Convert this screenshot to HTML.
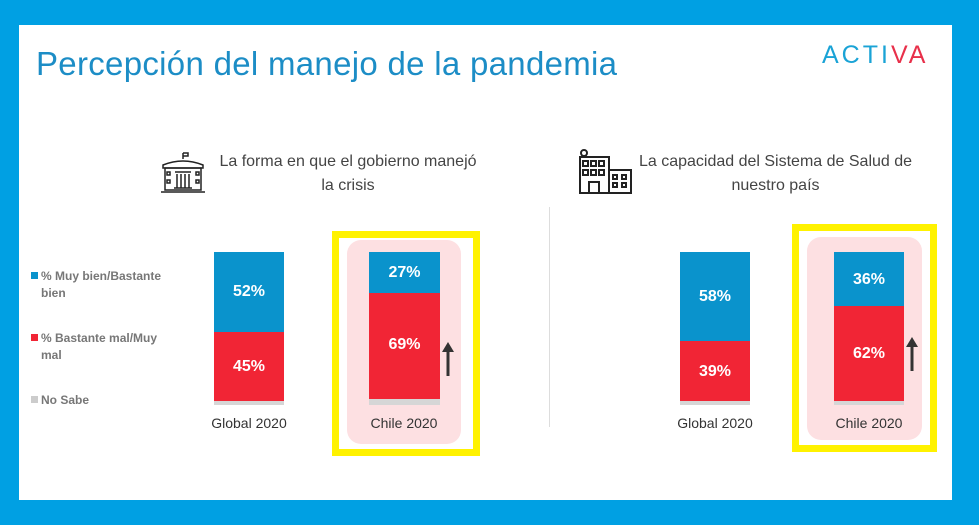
<!DOCTYPE html>
<html><head><meta charset="utf-8"><style>
body{margin:0;width:979px;height:525px;background:#00a0e3;position:relative;overflow:hidden;font-family:"Liberation Sans",sans-serif}
.abs{position:absolute}
#panel{left:19px;top:25px;width:933px;height:475px;background:#fff}
.t{color:#444;font-size:16px;text-align:center;line-height:24px}
.bar span{position:absolute;left:0;width:100%;color:#fff;font-weight:bold;font-size:16px;text-align:center}
.lab{font-size:14px;color:#333;text-align:center;width:100px}
.leg{font-size:12px;color:#777;font-weight:bold;line-height:17px}
</style></head><body>
<div id="panel" class="abs"></div>
<div class="abs" style="left:36px;top:45px;font-size:33px;color:#1c8dc6;letter-spacing:0.3px">Percepción del manejo de la pandemia</div>
<div class="abs" style="left:822px;top:41px;font-size:25px;letter-spacing:3px;color:#1aa3d6">ACTI<span style="color:#e8304a">VA</span></div>

<svg class="abs" style="left:160px;top:150px" width="46" height="46" viewBox="0 0 46 46" fill="none" stroke="#222" stroke-width="1.5">
<path d="M23 3v6M23 3h5v3h-5"/><path d="M3 15q20-8 40 0v3H3z"/><rect x="5" y="18" width="36" height="22"/><path d="M1 42h44"/><path d="M15 22h16M17 24v14M21 24v14M25 24v14M29 24v14M14 38h18"/><rect x="7" y="22" width="3" height="3"/><rect x="7" y="30" width="3" height="3"/><rect x="36" y="22" width="3" height="3"/><rect x="36" y="30" width="3" height="3"/></svg>
<svg class="abs" style="left:577px;top:148px" width="56" height="46" viewBox="0 0 56 46" fill="none" stroke="#222" stroke-width="2">
<circle cx="7" cy="5" r="3"/><path d="M3 9h29v36H3zM32 22h22v23H32z"/><rect x="6" y="13" width="5" height="5"/><rect x="14" y="13" width="5" height="5"/><rect x="22" y="13" width="5" height="5"/><rect x="6" y="22" width="5" height="5"/><rect x="14" y="22" width="5" height="5"/><rect x="22" y="22" width="5" height="5"/><rect x="36" y="27" width="4" height="4"/><rect x="45" y="27" width="4" height="4"/><rect x="36" y="35" width="4" height="4"/><rect x="45" y="35" width="4" height="4"/><path d="M12 45V34h10v11"/></svg>

<div class="abs t" style="left:208px;top:150px;width:280px">La forma en que el gobierno manejó<br>la crisis</div>
<div class="abs t" style="left:633px;top:150px;width:285px">La capacidad del Sistema de Salud de<br>nuestro país</div>

<div class="abs" style="left:31px;top:272px;width:7px;height:7px;background:#0a93cc"></div>
<div class="abs leg" style="left:41px;top:268px">% Muy bien/Bastante<br>bien</div>
<div class="abs" style="left:31px;top:334px;width:7px;height:7px;background:#f12535"></div>
<div class="abs leg" style="left:41px;top:330px">% Bastante mal/Muy<br>mal</div>
<div class="abs" style="left:31px;top:396px;width:7px;height:7px;background:#ccc"></div>
<div class="abs leg" style="left:41px;top:392px">No Sabe</div>

<div class="abs" style="left:549px;top:207px;width:1px;height:220px;background:#ddd"></div>

<div class="abs" style="left:332px;top:231px;width:134px;height:211px;border:7px solid #fff200"></div>
<div class="abs" style="left:347px;top:240px;width:114px;height:204px;background:#fde0e2;border-radius:14px"></div>
<div class="abs" style="left:792px;top:224px;width:131px;height:214px;border:7px solid #fff200"></div>
<div class="abs" style="left:807px;top:237px;width:115px;height:203px;background:#fde0e2;border-radius:14px"></div>

<div class="abs bar" style="left:214px;top:252px;width:70px;height:153px;background:#d6d6d6">
<div class="abs" style="left:0;top:0;width:70px;height:80px;background:#0a93cc"></div><span style="top:31px">52%</span>
<div class="abs" style="left:0;top:80px;width:70px;height:69px;background:#f12535"></div><span style="top:106px">45%</span></div>
<div class="abs bar" style="left:369px;top:252px;width:71px;height:153px;background:#d6d6d6">
<div class="abs" style="left:0;top:0;width:71px;height:41px;background:#0a93cc"></div><span style="top:12px">27%</span>
<div class="abs" style="left:0;top:41px;width:71px;height:106px;background:#f12535"></div><span style="top:84px">69%</span></div>
<div class="abs bar" style="left:680px;top:252px;width:70px;height:153px;background:#d6d6d6">
<div class="abs" style="left:0;top:0;width:70px;height:89px;background:#0a93cc"></div><span style="top:36px">58%</span>
<div class="abs" style="left:0;top:89px;width:70px;height:60px;background:#f12535"></div><span style="top:111px">39%</span></div>
<div class="abs bar" style="left:834px;top:252px;width:70px;height:153px;background:#d6d6d6">
<div class="abs" style="left:0;top:0;width:70px;height:54px;background:#0a93cc"></div><span style="top:19px">36%</span>
<div class="abs" style="left:0;top:54px;width:70px;height:95px;background:#f12535"></div><span style="top:93px">62%</span></div>

<svg class="abs" style="left:441px;top:342px" width="14" height="34"><path d="M7 34V6" stroke="#333" stroke-width="3"/><path d="M1 10L7 0L13 10z" fill="#333"/></svg>
<svg class="abs" style="left:905px;top:337px" width="14" height="34"><path d="M7 34V6" stroke="#333" stroke-width="3"/><path d="M1 10L7 0L13 10z" fill="#333"/></svg>

<div class="abs lab" style="left:199px;top:415px">Global 2020</div>
<div class="abs lab" style="left:354px;top:415px">Chile 2020</div>
<div class="abs lab" style="left:665px;top:415px">Global 2020</div>
<div class="abs lab" style="left:819px;top:415px">Chile 2020</div>
</body></html>
